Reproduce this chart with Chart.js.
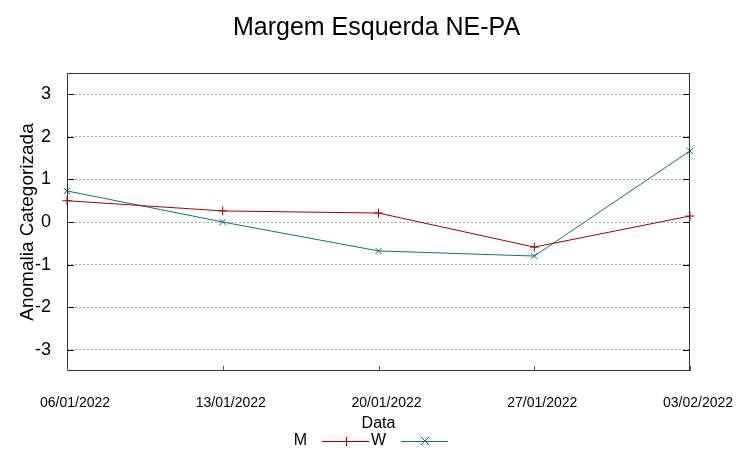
<!DOCTYPE html>
<html>
<head>
<meta charset="utf-8">
<script src="https://cdn.jsdelivr.net/npm/chart.js@4"></script>
<style>
  body { margin: 0; background: #fff; }
  #wrap { width: 753px; height: 459px; }
</style>
</head>
<body>
<div id="wrap"><canvas id="myChart" width="753" height="459"></canvas></div>
<script>
// datas e valores
const datas = ["06/01/2022", "13/01/2022", "20/01/2022", "27/01/2022", "03/02/2022"];
const serieM = [0.5, 0.26, 0.21, -0.59, 0.14];
const serieW = [0.73, 0.0, -0.68, -0.8, 1.67];
const yTicks = [-3, -2, -1, 0, 1, 2, 3];

const FONT = "'Liberation Sans', Arial, sans-serif";

// caixa, marcas dos ticks e legenda no estilo gnuplot
const estiloGnuplot = {
  id: "estiloGnuplot",
  afterDraw(chart) {
    const ctx = chart.ctx;
    const a = chart.chartArea;
    const y = chart.scales.y;
    const x = chart.scales.x;
    ctx.save();
    ctx.strokeStyle = "#333";
    ctx.lineWidth = 1;
    ctx.strokeRect(a.left + 0.5, a.top + 0.5, a.right - a.left - 1, a.bottom - a.top - 1);
    ctx.strokeStyle = "#000";
    ctx.beginPath();
    yTicks.forEach(v => {
      const py = Math.round(y.getPixelForValue(v)) + 0.5;
      ctx.moveTo(a.left, py); ctx.lineTo(a.left + 7, py);
      ctx.moveTo(a.right, py); ctx.lineTo(a.right - 7, py);
    });
    ctx.stroke();
    ctx.strokeStyle = "#555";
    ctx.beginPath();
    datas.forEach((d, i) => {
      const px = Math.round(x.getPixelForValue(i)) + 0.5;
      ctx.moveTo(px, a.bottom); ctx.lineTo(px, a.bottom - 5);
    });
    ctx.stroke();

    // legenda: texto alinhado a direita e depois a amostra da linha
    const ly = 441;
    let tx = 307;
    ctx.font = "16px " + FONT;
    ctx.textBaseline = "middle";
    ctx.textAlign = "right";
    chart.data.datasets.forEach(ds => {
      ctx.fillStyle = "#000";
      ctx.fillText(ds.label, tx, ly);
      const sx = tx + 15;
      ctx.strokeStyle = ds.borderColor;
      ctx.beginPath();
      ctx.moveTo(sx, ly + 0.5); ctx.lineTo(sx + 47, ly + 0.5);
      const cx = sx + 24;
      if (ds.pointStyle === "cross") {
        ctx.moveTo(cx + 0.5, ly - 4); ctx.lineTo(cx + 0.5, ly + 5);
      } else {
        ctx.moveTo(cx - 4, ly - 4); ctx.lineTo(cx + 4, ly + 4);
        ctx.moveTo(cx + 4, ly - 4); ctx.lineTo(cx - 4, ly + 4);
      }
      ctx.stroke();
      tx = sx + 47 + 17;
    });
    ctx.restore();
  }
};

var ctx = document.getElementById("myChart").getContext("2d");

var chart = new Chart(ctx, {
  type: "line",
  data: {
    labels: datas,
    datasets: [
      {
        label: "M",
        data: serieM,
        borderColor: "#a80000",
        backgroundColor: "#a80000",
        borderWidth: 1,
        pointStyle: "cross",
        pointRadius: 4.5,
        pointBorderWidth: 1,
        tension: 0
      },
      {
        label: "W",
        data: serieW,
        borderColor: "#007a7a",
        backgroundColor: "#007a7a",
        borderWidth: 1,
        pointStyle: "crossRot",
        pointRadius: 4.5,
        pointBorderWidth: 1,
        tension: 0
      }
    ]
  },
  options: {
    responsive: false,
    animation: false,
    layout: { padding: { left: 0, right: 0, top: 0, bottom: 26 } },
    plugins: {
      legend: { display: false },
      tooltip: { enabled: false },
      title: {
        display: true,
        text: "Margem Esquerda NE-PA",
        color: "#000",
        font: { family: FONT, size: 25, weight: "normal" },
        padding: { top: 13, bottom: 30 }
      }
    },
    scales: {
      x: {
        offset: false,
        afterFit: (s) => { s.height = 62; },
        grid: { display: false, drawTicks: false },
        border: { display: false },
        ticks: {
          color: "#000",
          font: { family: FONT, size: 14 },
          padding: 24,
          labelOffset: 8,
          maxRotation: 0,
          autoSkip: false
        },
        title: {
          display: true,
          text: "Data",
          color: "#000",
          font: { family: FONT, size: 16 },
          padding: { top: 2, bottom: 0 }
        }
      },
      y: {
        min: -3.5,
        max: 3.5,
        afterBuildTicks: (s) => { s.ticks = yTicks.map(v => ({ value: v })); },
        afterFit: (s) => { s.width = 67; },
        grid: {
          color: "#a8a8a8",
          drawTicks: false
        },
        border: { display: false, dash: [2, 2] },
        ticks: {
          color: "#000",
          font: { family: FONT, size: 18 },
          padding: 16
        },
        title: {
          display: true,
          text: "Anomalia Categorizada",
          color: "#000",
          font: { family: FONT, size: 19 },
          padding: { top: 16, bottom: 0 }
        }
      },
      // eixo vazio a direita so para reservar a margem
      y2: {
        position: "right",
        min: -3.5,
        max: 3.5,
        afterFit: (s) => { s.width = 63; },
        grid: { display: false, drawTicks: false },
        border: { display: false },
        ticks: { display: false }
      }
    }
  },
  plugins: [estiloGnuplot]
});
</script>
</body>
</html>
